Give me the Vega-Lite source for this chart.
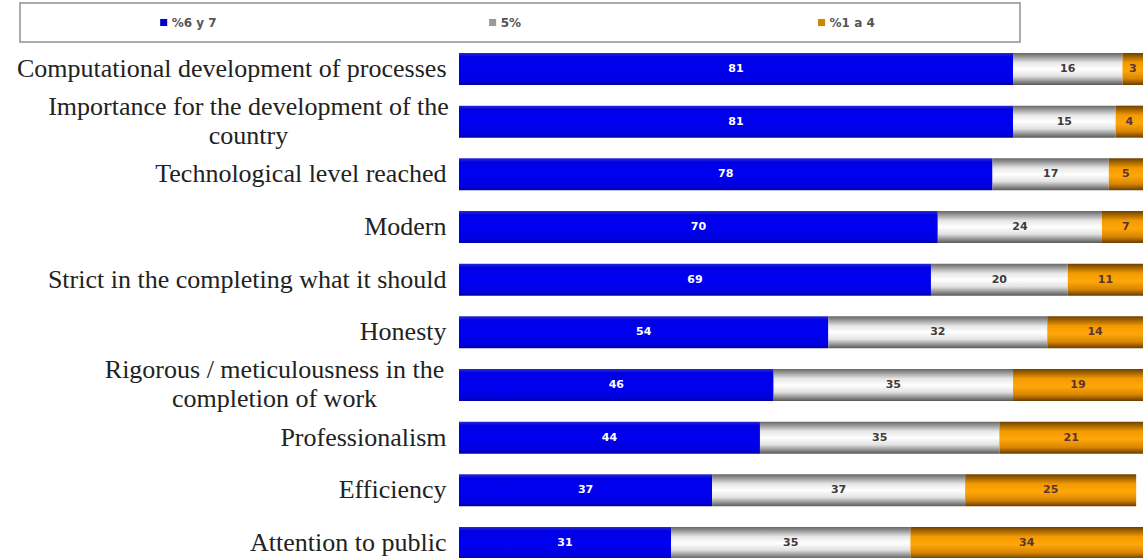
{
  "$schema": "https://vega.github.io/schema/vega-lite/v6.json",
  "padding": {"left": 16, "top": 2, "right": 0, "bottom": 0},
  "background": "white",
  "spacing": 1,
  "datasets": {
    "bars": [
      {"item": "Computational development of processes", "cat": "%6 y 7", "ord": 0, "value": 81},
      {"item": "Computational development of processes", "cat": "5%", "ord": 1, "value": 16},
      {"item": "Computational development of processes", "cat": "%1 a 4", "ord": 2, "value": 3},
      {"item": "Importance for the development of the|country", "cat": "%6 y 7", "ord": 0, "value": 81},
      {"item": "Importance for the development of the|country", "cat": "5%", "ord": 1, "value": 15},
      {"item": "Importance for the development of the|country", "cat": "%1 a 4", "ord": 2, "value": 4},
      {"item": "Technological level reached", "cat": "%6 y 7", "ord": 0, "value": 78},
      {"item": "Technological level reached", "cat": "5%", "ord": 1, "value": 17},
      {"item": "Technological level reached", "cat": "%1 a 4", "ord": 2, "value": 5},
      {"item": "Modern", "cat": "%6 y 7", "ord": 0, "value": 70},
      {"item": "Modern", "cat": "5%", "ord": 1, "value": 24},
      {"item": "Modern", "cat": "%1 a 4", "ord": 2, "value": 7},
      {"item": "Strict in the completing what it should", "cat": "%6 y 7", "ord": 0, "value": 69},
      {"item": "Strict in the completing what it should", "cat": "5%", "ord": 1, "value": 20},
      {"item": "Strict in the completing what it should", "cat": "%1 a 4", "ord": 2, "value": 11},
      {"item": "Honesty", "cat": "%6 y 7", "ord": 0, "value": 54},
      {"item": "Honesty", "cat": "5%", "ord": 1, "value": 32},
      {"item": "Honesty", "cat": "%1 a 4", "ord": 2, "value": 14},
      {"item": "Rigorous / meticulousness in the|completion of work", "cat": "%6 y 7", "ord": 0, "value": 46},
      {"item": "Rigorous / meticulousness in the|completion of work", "cat": "5%", "ord": 1, "value": 35},
      {"item": "Rigorous / meticulousness in the|completion of work", "cat": "%1 a 4", "ord": 2, "value": 19},
      {"item": "Professionalism", "cat": "%6 y 7", "ord": 0, "value": 44},
      {"item": "Professionalism", "cat": "5%", "ord": 1, "value": 35},
      {"item": "Professionalism", "cat": "%1 a 4", "ord": 2, "value": 21},
      {"item": "Efficiency", "cat": "%6 y 7", "ord": 0, "value": 37},
      {"item": "Efficiency", "cat": "5%", "ord": 1, "value": 37},
      {"item": "Efficiency", "cat": "%1 a 4", "ord": 2, "value": 25},
      {"item": "Attention to public", "cat": "%6 y 7", "ord": 0, "value": 31},
      {"item": "Attention to public", "cat": "5%", "ord": 1, "value": 35},
      {"item": "Attention to public", "cat": "%1 a 4", "ord": 2, "value": 34}
    ],
    "legend": [
      {"cat": "%6 y 7", "ord": 0},
      {"cat": "5%", "ord": 1},
      {"cat": "%1 a 4", "ord": 2}
    ]
  },
  "resolve": {"scale": {"x": "independent", "y": "independent", "color": "independent"}},
  "vconcat": [
    {
      "width": 1000,
      "height": 39,
      "view": {"stroke": "#ababab", "strokeWidth": 2},
      "data": {"name": "legend"},
      "encoding": {
        "x": {"field": "cat", "type": "nominal", "sort": ["%6 y 7", "5%", "%1 a 4"],
              "scale": {"type": "point", "padding": 0.52, "align": 0.42}, "axis": null},
        "y": {"datum": 0, "type": "quantitative", "scale": {"domain": [-1, 1]}, "axis": null}
      },
      "layer": [
        {
          "mark": {"type": "point", "shape": "square", "filled": true, "size": 50, "opacity": 1},
          "encoding": {
            "color": {"field": "cat", "type": "nominal", "sort": ["%6 y 7", "5%", "%1 a 4"],
                      "scale": {"domain": ["%6 y 7", "5%", "%1 a 4"], "range": ["#0000cc", "#9a9a9a", "#d08400"]},
                      "legend": null}
          }
        },
        {
          "mark": {"type": "text", "align": "left", "baseline": "middle", "dx": 8, "font": "DejaVu Sans", "fontWeight": "bold", "fontSize": 12, "color": "#555555"},
          "encoding": {"text": {"field": "cat"}}
        }
      ]
    },
    {
      "width": 1123,
      "height": 515,
      "view": {"stroke": null},
      "data": {"name": "bars"},
      "transform": [
        {"stack": "value", "groupby": ["item"], "sort": [{"field": "ord", "order": "ascending"}], "as": ["x0", "x1"]}
      ],
      "encoding": {
        "y": {
          "field": "item", "type": "nominal", "sort": null,
          "scale": {"paddingInner": 0.3924, "paddingOuter": 0.0854, "align": 1},
          "axis": {
            "title": null,
            "minExtent": 0, "maxExtent": 0,
            "ticks": false, "tickSize": 0,
            "domain": false,
            "labelFont": "Liberation Serif", "labelFontSize": 26, "labelColor": "#222222",
            "labelLimit": 1000, "labelLineHeight": 29,
            "labelExpr": "split(datum.label, '|')",
            "labelAlign": {"condition": {"test": "indexof(datum.value, '|') >= 0", "value": "center"}, "value": "right"},
            "labelOffset": {"condition": {"test": "indexof(datum.value, '|') >= 0", "value": -15}, "value": 0},
            "labelPadding": {"condition": [
              {"test": "indexof(datum.value, 'Importance') == 0", "value": -228},
              {"test": "indexof(datum.value, 'Rigorous') == 0", "value": -254}
            ], "value": -426}
          }
        }
      },
      "layer": [
        {
          "transform": [{"filter": "datum.ord == 0"}],
          "mark": {"type": "bar", "clip": true, "color": {"gradient": "linear", "x1": 0, "y1": 0, "x2": 0, "y2": 1,
            "stops": [{"offset": 0, "color": "#2a2ad0"}, {"offset": 0.12, "color": "#0000e6"}, {"offset": 0.5, "color": "#0000f2"}, {"offset": 0.88, "color": "#0000e0"}, {"offset": 1, "color": "#0000a8"}]}},
          "encoding": {
            "x": {"field": "x0", "type": "quantitative", "scale": {"domain": [0, 100], "range": [439, 1123], "nice": false, "zero": true}, "axis": null},
            "x2": {"field": "x1"}
          }
        },
        {
          "transform": [{"filter": "datum.ord == 1"}],
          "mark": {"type": "bar", "clip": true, "color": {"gradient": "linear", "x1": 0, "y1": 0, "x2": 0, "y2": 1,
            "stops": [{"offset": 0, "color": "#666666"}, {"offset": 0.3, "color": "#e6e6e6"}, {"offset": 0.5, "color": "#ffffff"}, {"offset": 0.72, "color": "#e2e2e2"}, {"offset": 1, "color": "#585858"}]}},
          "encoding": {
            "x": {"field": "x0", "type": "quantitative"},
            "x2": {"field": "x1"}
          }
        },
        {
          "transform": [{"filter": "datum.ord == 2"}],
          "mark": {"type": "bar", "clip": true, "color": {"gradient": "linear", "x1": 0, "y1": 0, "x2": 0, "y2": 1,
            "stops": [{"offset": 0, "color": "#6e4000"}, {"offset": 0.3, "color": "#f29a00"}, {"offset": 0.55, "color": "#ffa70a"}, {"offset": 0.8, "color": "#d98600"}, {"offset": 1, "color": "#6a3c00"}]}},
          "encoding": {
            "x": {"field": "x0", "type": "quantitative"},
            "x2": {"field": "x1"}
          }
        },
        {
          "mark": {"type": "text", "align": "center", "baseline": "middle", "font": "DejaVu Sans", "fontWeight": "bold", "fontSize": 11, "clip": true},
          "encoding": {
            "x": {"field": "value", "type": "quantitative", "stack": "zero", "bandPosition": 0.5},
            "order": {"field": "ord", "type": "quantitative"},
            "text": {"field": "value", "type": "quantitative"},
            "color": {
              "condition": [
                {"test": "datum.ord == 0", "value": "#ffffff"},
                {"test": "datum.ord == 1", "value": "#3c3c3c"}
              ],
              "value": "#5a3434"
            }
          }
        }
      ]
    }
  ]
}
